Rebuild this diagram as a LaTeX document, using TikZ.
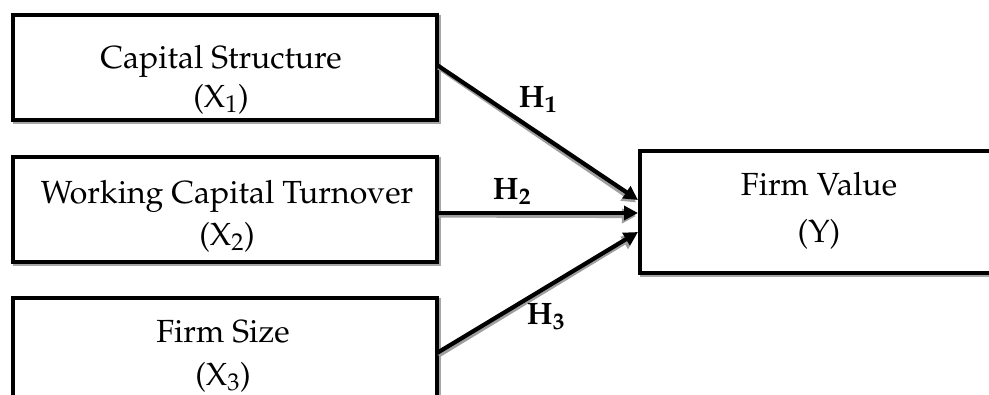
\documentclass[tikz,border=0pt]{standalone}
\usepackage[T1]{fontenc}
\usepackage{mathpazo}
\usetikzlibrary{arrows.meta,calc}
\begin{document}
\begin{tikzpicture}[x=1pt,y=-1pt,
  box/.style={draw=black,line width=4pt,fill=white,inner sep=0pt},
  boxshadow/.style={draw=black!35,line width=4pt,inner sep=0pt},
  lbl/.style={anchor=base,inner sep=0pt,font=\fontsize{32}{38}\selectfont},
  hyp/.style={inner sep=0pt,font=\fontsize{31}{36}\selectfont\bfseries},
  arr/.style={line width=4.2pt,-{Triangle[length=14pt,width=14pt]}},
  arrshadow/.style={arr,draw=black!38,shorten >=1pt}]
\useasboundingbox (0,0) rectangle (989,394);
% shadows of boxes
\node[boxshadow,minimum width=424pt,minimum height=105pt] (sh1) at (226.5,69) {};
\node[boxshadow,minimum width=424pt,minimum height=105pt] (sh2) at (226.5,211) {};
\node[boxshadow,minimum width=424pt,minimum height=105pt] (sh3) at (226.5,352) {};
\node[boxshadow,minimum width=362pt,minimum height=122pt] (shy) at (822.5,213.5) {};
% boxes
\node[box,minimum width=424pt,minimum height=105pt] (b1) at (225,67.5) {};
\node[box,minimum width=424pt,minimum height=105pt] (b2) at (225,209.5) {};
\node[box,minimum width=424pt,minimum height=105pt] (b3) at (225,350.5) {};
\node[box,minimum width=362pt,minimum height=122pt] (bY) at (821,212) {};
% texts
\node[lbl] (t1a) at (221,68) {Capital Structure};
\node[lbl] (t1b) at (221,107) {(X\textsubscript{1})};
\node[lbl] (t2a) at (227,203) {Working Capital Turnover};
\node[lbl] (t2b) at (227,245) {(X\textsubscript{2})};
\node[lbl] (t3a) at (223,342) {Firm Size};
\node[lbl] (t3b) at (223,385) {(X\textsubscript{3})};
\node[lbl] (tya) at (819,195) {Firm Value};
\node[lbl] (tyb) at (819,242) {(Y)};
% connector endpoints
\coordinate (s1) at ($(b1.east)+(-2,-2.5)$);
\coordinate (s2) at ($(b2.east)+(-2,3.5)$);
\coordinate (s3) at ($(b3.east)+(-2,2.5)$);
\coordinate (e1) at (638,200);
\coordinate (e2) at (638,213);
\coordinate (e3) at (638,232);
\coordinate (s1s) at ($(s1)+(1.5,2.5)$);
\coordinate (s2s) at ($(s2)+(1.5,2.5)$);
\coordinate (s3s) at ($(s3)+(1.5,2.5)$);
\coordinate (e1s) at ($(e1)+(-1,3)$);
\coordinate (e2s) at ($(e2)+(-1,3)$);
\coordinate (e3s) at ($(e3)+(-1,3)$);
% arrow shadows
\draw[arrshadow] (s1s) -- (e1s);
\draw[arrshadow] (s2s) -- (e2s);
\draw[arrshadow] (s3s) -- (e3s);
% arrows
\draw[arr] (s1) -- (e1);
\draw[arr] (s2) -- (e2);
\draw[arr] (s3) -- (e3);
% hypothesis labels
\node[hyp] (h1) at (538,100) {H\textsubscript{1}};
\node[hyp] (h2) at (512,192) {H\textsubscript{2}};
\node[hyp] (h3) at (546,317) {H\textsubscript{3}};
\end{tikzpicture}
\end{document}
